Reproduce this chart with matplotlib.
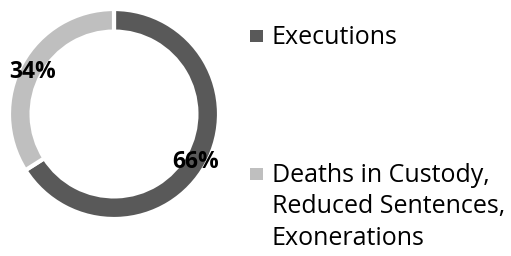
import matplotlib.pyplot as plt
from matplotlib.patches import Rectangle

plt.rcParams['font.family'] = ['Open Sans', 'DejaVu Sans']

labels = ['Executions', 'Deaths in Custody,\nReduced Sentences,\nExonerations']
values = [66, 34]
colors = ['#595959', '#bfbfbf']

W, H = 511, 256
fig = plt.figure(figsize=(W / 100, H / 100), dpi=100)

# donut: centre at (114, 114) px from top-left, radius ~105 px
cx, cy, r = 114, H - 114, 105
lim = 1.05
size = 2 * lim * r
ax = fig.add_axes([(cx - size / 2) / W, (cy - size / 2) / H, size / W, size / H])

wedges, texts, autotexts = ax.pie(
    values, colors=colors, startangle=90, counterclock=False,
    autopct='%1.0f%%', pctdistance=0.89,
    wedgeprops=dict(width=0.215, edgecolor='white', linewidth=3),
    textprops=dict(fontsize=16.5, fontweight='bold', color='black'))
for t in autotexts:
    t.set_va('center_baseline')
ax.set_xlim(-lim, lim)
ax.set_ylim(-lim, lim)
ax.set_aspect('equal')
ax.axis('off')

# legend drawn by hand so the marker sits on the first line
# (marker centre y, first-line baseline y) in px from the top
leg_pos = [(36, 44.5), (174, 182)]
for lab, col, (my, by) in zip(labels, colors, leg_pos):
    fig.patches.append(Rectangle((250 / W, (H - my - 6) / H), 13 / W, 12 / H,
                                 transform=fig.transFigure, facecolor=col,
                                 edgecolor='none'))
    for i, line in enumerate(lab.split('\n')):
        fig.text(272 / W, (H - by - 31.5 * i) / H, line, fontsize=18,
                 va='baseline', ha='left')

fig.savefig('out.png', dpi=100)
